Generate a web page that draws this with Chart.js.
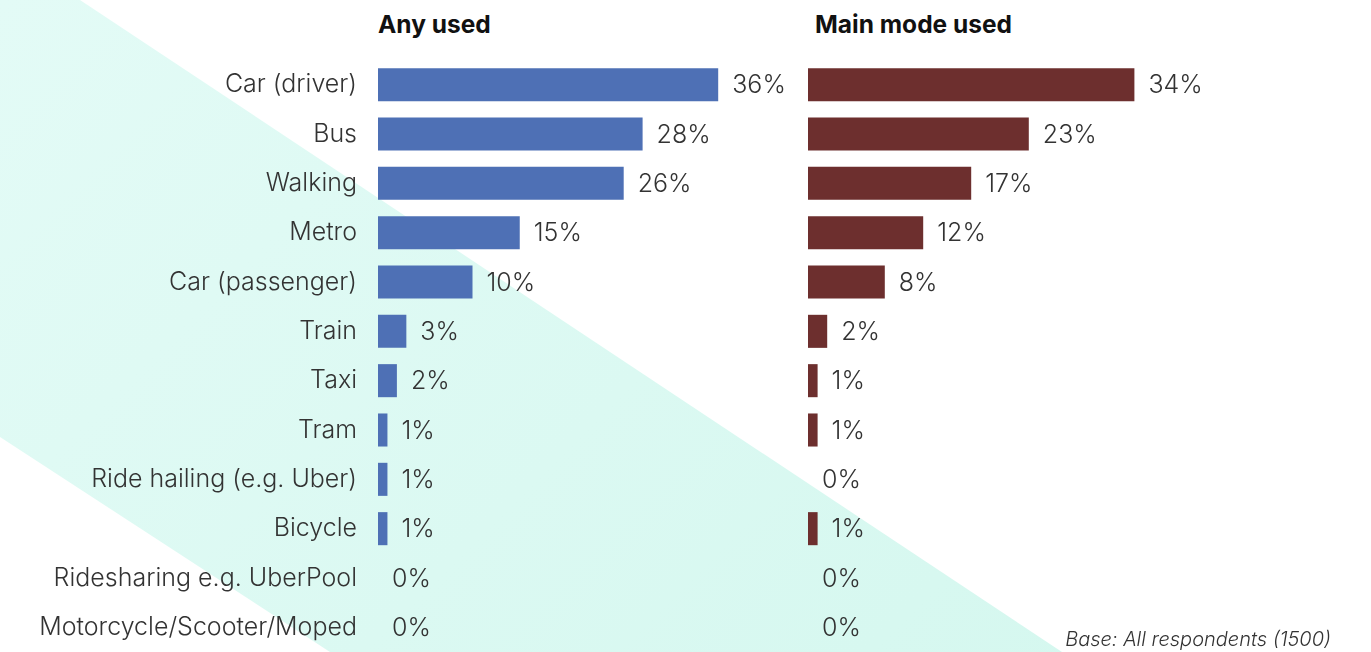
<!DOCTYPE html>
<html>
<head>
<meta charset="utf-8">
<script src="https://cdn.jsdelivr.net/npm/chart.js@4/dist/chart.umd.min.js"></script>
<style>
  html, body { margin: 0; padding: 0; background: #fff; }
  body { width: 1371px; height: 652px; position: relative; overflow: hidden; font-family: Inter, "Noto Sans", sans-serif; }
  .band {
    position: absolute; left: 0; top: 0; width: 1371px; height: 652px;
    background: linear-gradient(135deg, #e3fbf6 0%, #d3f7ee 100%);
    clip-path: polygon(0 0, 80px 0, 1062px 652px, 330px 652px, 0 437px);
  }
  .title { position: absolute; top: 9px; font-weight: 700; font-size: 24.5px; color: #111; }
  .wrap { position: absolute; }
  .note { position: absolute; right: 40px; top: 627px; font-style: italic; font-size: 20px; font-weight: 300; color: #333; }
</style>
</head>
<body>
<div class="band"></div>
<div class="title" style="left:378px">Any used</div>
<div class="title" style="left:815px">Main mode used</div>
<div class="wrap" style="left:0; top:60px; width:800px; height:592px;"><canvas id="anyChart"></canvas></div>
<div class="wrap" style="left:790px; top:60px; width:581px; height:592px;"><canvas id="mainChart"></canvas></div>
<div class="note">Base: All respondents (1500)</div>

<script>
const categories = ['Car (driver)', 'Bus', 'Walking', 'Metro', 'Car (passenger)', 'Train', 'Taxi', 'Tram',
  'Ride hailing (e.g. Uber)', 'Bicycle', 'Ridesharing e.g. UberPool', 'Motorcycle/Scooter/Moped'];
const anyUsed = [36, 28, 26, 15, 10, 3, 2, 1, 1, 1, 0, 0];
const mainMode = [34, 23, 17, 12, 8, 2, 1, 1, 0, 1, 0, 0];

const labelFont = { family: 'Inter', size: 25, weight: '300' };

// writes "NN%" just past the end of each bar
const valueLabels = {
  id: 'valueLabels',
  afterDatasetsDraw(chart) {
    const ctx = chart.ctx;
    const meta = chart.getDatasetMeta(0);
    const values = chart.data.datasets[0].data;
    ctx.save();
    ctx.font = `${labelFont.weight} ${labelFont.size}px ${labelFont.family}`;
    ctx.fillStyle = '#333';
    ctx.textAlign = 'left';
    ctx.textBaseline = 'middle';
    meta.data.forEach((bar, i) => {
      ctx.fillText(values[i] + '%', bar.x + 14, bar.y + 1);
    });
    ctx.restore();
  }
};

function makeChart(id, values, color, showLabels, pad) {
  return new Chart(document.getElementById(id), {
    type: 'bar',
    data: {
      labels: categories,
      datasets: [{ data: values, backgroundColor: color, barPercentage: 0.67, categoryPercentage: 1 }]
    },
    options: {
      indexAxis: 'y',
      responsive: true,
      maintainAspectRatio: false,
      animation: false,
      layout: { padding: pad },
      plugins: { legend: { display: false }, tooltip: { enabled: false } },
      scales: {
        x: { display: false, min: 0, max: 40 },
        y: {
          display: showLabels,
          grid: { display: false },
          border: { display: false },
          ticks: { color: '#333', font: labelFont, padding: 13 },
          afterFit(axis) {
            if (!showLabels) return;
            axis.width = 378;
            // keep the rows spread over the full canvas height
            axis.paddingTop = 0;
            axis.paddingBottom = 0;
          }
        }
      }
    },
    plugins: [valueLabels]
  });
}

makeChart('anyChart', anyUsed, '#4e70b5', true, { left: 0, right: 44, top: 0, bottom: 0 });
makeChart('mainChart', mainMode, '#6d2f2e', false, { left: 18, right: 179, top: 0, bottom: 0 });
</script>
</body>
</html>
